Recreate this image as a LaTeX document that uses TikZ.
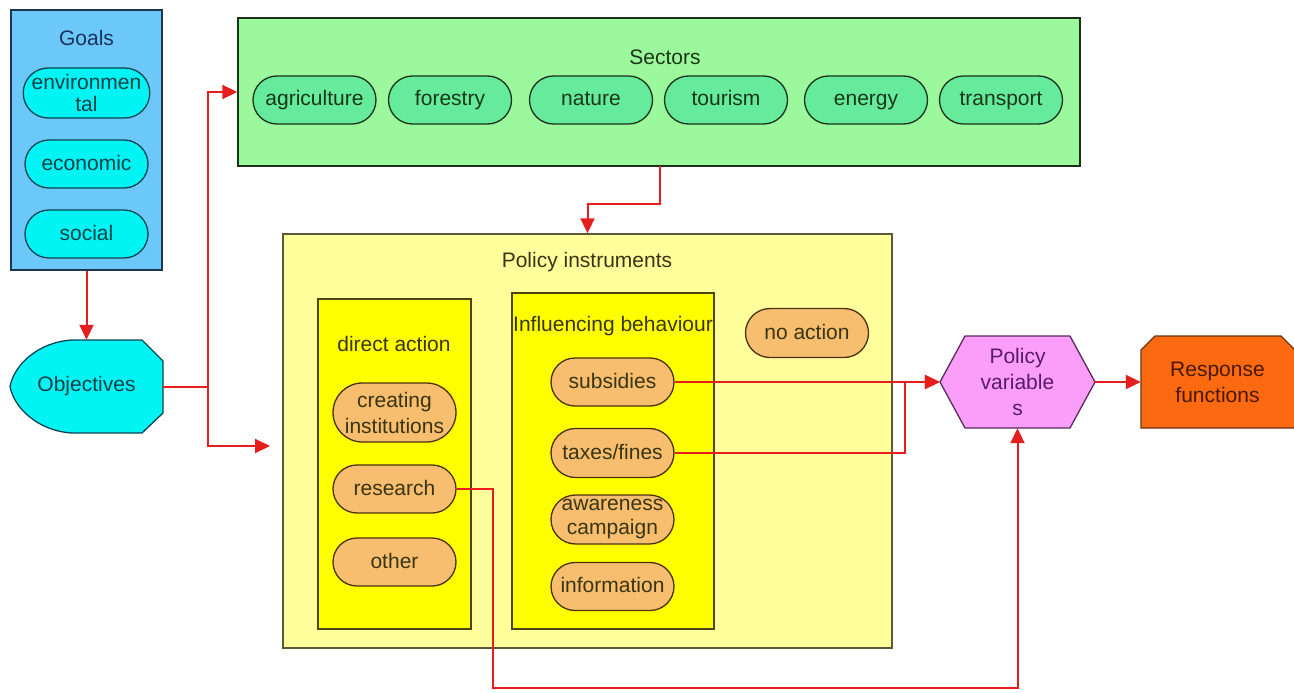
\documentclass[tikz,border=0pt]{standalone}
\usepackage{fontspec}
\setmainfont{Liberation Sans}
\usetikzlibrary{arrows.meta,shapes.misc}

\definecolor{goalfill}{HTML}{6CC8F8}
\definecolor{goalline}{HTML}{1E3550}
\definecolor{goaltext}{HTML}{1A3060}
\definecolor{cyanfill}{HTML}{00F4F4}
\definecolor{cyanline}{HTML}{0E4452}
\definecolor{cyantext}{HTML}{0A4048}
\definecolor{secfill}{HTML}{9CF89C}
\definecolor{secline}{HTML}{1A321A}
\definecolor{sectext}{HTML}{183818}
\definecolor{mintfill}{HTML}{66EA9C}
\definecolor{polfill}{HTML}{FFFF9C}
\definecolor{polline}{HTML}{5A5A36}
\definecolor{poltext}{HTML}{3A3412}
\definecolor{yelfill}{HTML}{FFFF00}
\definecolor{yelline}{HTML}{4A4612}
\definecolor{tanfill}{HTML}{F6BE6E}
\definecolor{tanline}{HTML}{4A3210}
\definecolor{pvfill}{HTML}{FA9EFA}
\definecolor{pvline}{HTML}{5A2A5A}
\definecolor{pvtext}{HTML}{5A1A6A}
\definecolor{respfill}{HTML}{FB6A10}
\definecolor{respline}{HTML}{6A3410}
\definecolor{resptext}{HTML}{4A1800}
\definecolor{arrowred}{HTML}{E61E1E}

\begin{document}
\begin{tikzpicture}[x=1pt,y=-1pt,
  font=\fontsize{21}{26}\selectfont,
  container/.style={draw, line width=1.4pt, inner sep=0pt},
  title/.style={inner sep=0pt},
  pill/.style={rounded rectangle, draw, line width=1.3pt,
    minimum width=123pt, minimum height=48pt, inner sep=0pt, align=center},
  oneline/.style={text height=16pt, text depth=4pt},
  goalpill/.style={pill, fill=cyanfill, draw=cyanline, text=cyantext},
  secpill/.style={pill, oneline, fill=mintfill, draw=secline, text=sectext},
  tanpill/.style={pill, fill=tanfill, draw=tanline, text=poltext},
  arr/.style={draw=arrowred, line width=2pt, -{Triangle[length=15pt,width=14pt]}},
]
\useasboundingbox (0,0) rectangle (1294,693);

% ---------------- Goals ----------------
\node[container, fill=goalfill, draw=goalline, minimum width=151pt, minimum height=260pt]
  (goals) at (86.5,140) {};
\node[title, text=goaltext] (goalsT) at (86.5,38) {Goals};
\node[goalpill, minimum height=50pt, font=\fontsize{21}{22}\selectfont]
  (env) at (86.5,93) {environmen\\tal};
\node[goalpill, oneline] (eco) at (86.5,164) {economic};
\node[goalpill, oneline] (soc) at (86.5,234) {social};

% ---------------- Objectives ----------------
\draw[line width=1.3pt, draw=cyanline, fill=cyanfill]
  (72,340) -- (142,340) -- (163,361) -- (163,413) -- (142,433) -- (72,433)
  .. controls (38,431) and (14,408) .. (10,386.5)
  .. controls (14,365) and (38,342) .. (72,340) -- cycle;
\node[inner sep=0pt, minimum width=153pt, minimum height=93pt, text=cyantext]
  (obj) at (86.5,386.5) {Objectives};

% ---------------- Sectors ----------------
\node[container, fill=secfill, draw=secline, minimum width=842pt, minimum height=148pt]
  (sectors) at (659,92) {};
\node[title, text=sectext] (secT) at (665,57) {Sectors};
\node[secpill] (agri) at (314.5,100) {agriculture};
\node[secpill] (fore) at (450,100) {forestry};
\node[secpill] (natu) at (591,100) {nature};
\node[secpill] (tour) at (726,100) {tourism};
\node[secpill] (ener) at (866,100) {energy};
\node[secpill] (tran) at (1001,100) {transport};

% ---------------- Policy instruments ----------------
\node[container, fill=polfill, draw=polline, minimum width=609pt, minimum height=414pt]
  (pol) at (587.5,441) {};
\node[title, text=poltext] (polT) at (587,262) {Policy instruments};

\node[container, fill=yelfill, draw=yelline, minimum width=153pt, minimum height=330pt]
  (direct) at (394.5,464) {};
\node[title, text=poltext] (directT) at (394,344) {direct action};
\node[tanpill, minimum height=59pt] (inst) at (394.5,412.5) {creating\\institutions};
\node[tanpill, oneline] (res) at (394.5,489) {research};
\node[tanpill, oneline] (oth) at (394.5,562) {other};

\node[container, fill=yelfill, draw=yelline, minimum width=202pt, minimum height=336pt]
  (infl) at (613,461) {};
\node[title, text=poltext] (inflT) at (613,326) {Influencing behaviour};
\node[tanpill, oneline] (subs) at (612.5,382) {subsidies};
\node[tanpill, oneline, minimum height=49pt] (tax) at (612.5,453) {taxes/fines};
\node[tanpill, minimum height=49pt, font=\fontsize{21}{24}\selectfont]
  (aware) at (612.5,519.5) {awareness\\campaign};
\node[tanpill, oneline] (info) at (612.5,586.5) {information};

\node[tanpill, oneline, minimum height=49pt] (noact) at (807,333) {no action};

% ---------------- Policy variables ----------------
\draw[line width=1.3pt, draw=pvline, fill=pvfill]
  (940,382) -- (965,336) -- (1070,336) -- (1095,382) -- (1070,428) -- (965,428) -- cycle;
\node[inner sep=0pt, minimum width=155pt, minimum height=92pt, align=center, text=pvtext]
  (pv) at (1017.5,382) {Policy\\variable\\s};

% ---------------- Response functions ----------------
\draw[line width=1.3pt, draw=respline, fill=respfill]
  (1141,350) -- (1155,336) -- (1281,336) -- (1295,350) -- (1295,428) -- (1141,428) -- cycle;
\node[inner sep=0pt, minimum width=153pt, minimum height=92pt, align=center, text=resptext]
  (resp) at (1217.5,382) {Response\\functions};

% ---------------- Connectors ----------------
\coordinate (split) at (208,386.5);
\coordinate (polIn) at (270,446);
\coordinate (secOut) at (660,166);
\coordinate (merge) at (905,382);
\coordinate (low) at (493,688);

\draw[arr] (goals.south) -- (obj.north);
\draw[arr] (obj.east) -- (split) |- (sectors.west);
\draw[arr] (split) |- (polIn);
\draw[arr] (secOut) -- ++(0,38) -| (pol.north);
\draw[arr] (subs.east) -- (pv.west);
\draw[arr] (tax.east) -| (merge) -- (pv.west);
\draw[arr] (res.east) -| (low) -| (pv.south);
\draw[arr] (pv.east) -- (resp.west);
\end{tikzpicture}
\end{document}
